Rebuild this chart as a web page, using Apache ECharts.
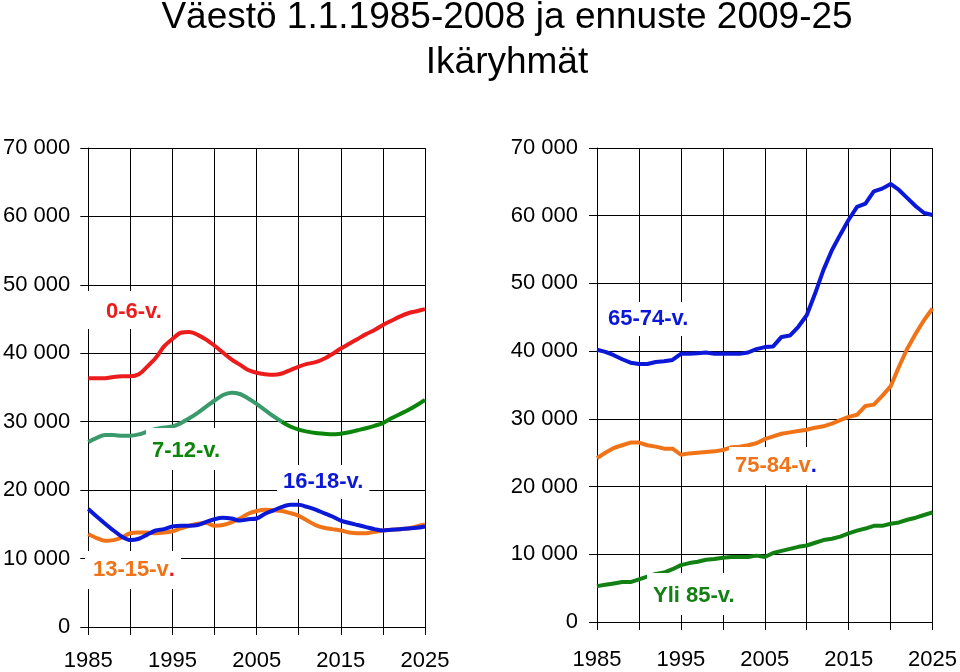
<!DOCTYPE html>
<html>
<head>
<meta charset="utf-8">
<script src="https://cdn.jsdelivr.net/npm/echarts@6/dist/echarts.min.js"></script>
<style>html,body{margin:0;padding:0;background:#fff}#c{width:960px;height:672px}</style>
</head>
<body>
<div id="c"></div>
<script>
const years = [1985,1986,1987,1988,1989,1990,1991,1992,1993,1994,1995,1996,1997,1998,1999,2000,2001,2002,2003,2004,2005,2006,2007,2008,2009,2010,2011,2012,2013,2014,2015,2016,2017,2018,2019,2020,2021,2022,2023,2024,2025];
const lastHistYear = 2008;

// Left panel: children and young people
const age0_6 = [36350,36350,36350,36550,36650,36650,36950,38050,39300,41000,42100,43000,43100,42700,42000,41100,40100,39100,38350,37550,37150,36950,36850,37050,37550,38050,38450,38700,39200,39900,40700,41400,42100,42800,43400,44150,44750,45350,45850,46150,46450];
const age7_12 = [27050,27650,28050,28050,27950,27950,28150,28550,28950,29150,29300,29800,30500,31300,32200,33100,33900,34250,34050,33400,32600,31700,30800,30000,29300,28850,28550,28350,28250,28150,28250,28450,28750,29050,29400,29800,30500,31100,31700,32400,33200];
const age13_15 = [13600,13000,12600,12700,13100,13700,13800,13800,13700,13800,14000,14400,14800,15100,15200,14800,14900,15300,15850,16550,16950,17150,17050,16950,16650,16250,15550,14900,14500,14300,14100,13800,13700,13700,13900,14100,14200,14300,14400,14700,15000];
const age16_18 = [17250,16150,15100,14100,13200,12700,12900,13500,14100,14300,14700,14800,14800,14900,15350,15750,15950,15850,15550,15750,15850,16550,17050,17550,17850,17850,17550,17150,16650,16150,15550,15200,14900,14600,14300,14100,14200,14300,14400,14500,14700];
// Right panel: older people
const age65_74 = [40200,39900,39400,38800,38300,38100,38100,38400,38500,38700,39600,39600,39700,39800,39600,39600,39600,39600,39800,40300,40600,40700,42100,42300,43600,45300,48500,52000,54900,57200,59400,61300,61800,63600,64000,64700,63800,62600,61400,60400,60100];
const age75_84 = [24200,25000,25700,26100,26500,26500,26100,25900,25600,25600,24700,24900,25000,25100,25200,25400,25800,25900,26100,26400,27000,27400,27800,28000,28200,28400,28700,28900,29300,29800,30300,30600,31900,32100,33400,34800,37700,40400,42600,44600,46300];
const age85plus = [5300,5500,5700,5900,5900,6300,6700,7100,7300,7800,8400,8700,8900,9200,9300,9500,9600,9600,9600,9800,9600,10200,10500,10800,11100,11300,11700,12100,12300,12600,13100,13500,13800,14200,14200,14500,14700,15100,15400,15800,16200];

const titleLines = ['Väestö 1.1.1985-2008 ja ennuste 2009-25', 'Ikäryhmät'];

const FONT = "'Liberation Sans', Arial, sans-serif";
const pairs = arr => years.map((y, i) => [y, arr[i]]);
const histIdx = years.indexOf(lastHistYear);

function xAxisDef(gi, margin) {
  return {
    type: 'value', gridIndex: gi, min: 1985, max: 2025, interval: 5,
    axisLine: { show: true, onZero: false, lineStyle: { color: '#000', width: 1 } },
    axisTick: { show: true, length: 8, lineStyle: { color: '#000', width: 1 } },
    axisLabel: { fontSize: 22, color: '#000', fontFamily: FONT, margin: margin,
      formatter: v => ((v - 1985) % 10 === 0 ? String(v) : ''), showMinLabel: true, showMaxLabel: true },
    splitLine: { show: true, lineStyle: { color: '#000', width: 1 } }
  };
}
function yAxisDef(gi, margin) {
  return {
    type: 'value', gridIndex: gi, min: 0, max: 70000, interval: 10000,
    axisLine: { show: true, lineStyle: { color: '#000', width: 1 } },
    axisTick: { show: true, length: 8, lineStyle: { color: '#000', width: 1 } },
    axisLabel: { fontSize: 22, color: '#000', fontFamily: FONT, margin: margin,
      formatter: v => (v === 0 ? '0' : (v / 1000) + ' 000') },
    splitLine: { show: true, lineStyle: { color: '#000', width: 1 } }
  };
}
function line(gi, data, color, smooth) {
  return { type: 'line', xAxisIndex: gi, yAxisIndex: gi, data: data, showSymbol: false,
    smooth: smooth, lineStyle: { color: color, width: 4 }, itemStyle: { color: color }, z: 3, silent: true };
}
function lab(x, y, rich, pad) {
  return { type: 'text', x: x, y: y, z: 100, silent: true,
    style: { text: rich.text, rich: rich.styles, font: 'bold 22px ' + FONT,
      backgroundColor: '#fff', padding: pad, verticalAlign: 'middle', align: 'left' } };
}
const st = c => ({ fill: c, fontSize: 22, fontWeight: 'bold', fontFamily: FONT });

const chart = echarts.init(document.getElementById('c'));
chart.setOption({
  animation: false,
  backgroundColor: '#fff',
  grid: [
    { left: 88, top: 148, width: 337, height: 479 },
    { left: 597, top: 148, width: 336, height: 474 }
  ],
  xAxis: [xAxisDef(0, 23), xAxisDef(1, 27)],
  yAxis: [yAxisDef(0, 18), yAxisDef(1, 19)],
  series: [
    line(0, pairs(age0_6), '#ec1c1c', 0.3),
    line(0, pairs(age7_12).slice(0, histIdx + 1), '#3a9a6c', 0.3),
    line(0, pairs(age7_12).slice(histIdx), '#0b860b', 0.3),
    line(0, pairs(age13_15), '#f07318', 0.3),
    line(0, pairs(age16_18), '#0c18d8', 0.3),
    line(1, pairs(age65_74), '#0c18d8', false),
    line(1, pairs(age75_84), '#f07318', false),
    line(1, pairs(age85plus), '#138013', false)
  ],
  graphic: [
    { type: 'text', x: 507, y: 18, z: 100, style: { text: titleLines[0], font: '37px ' + FONT, fill: '#000', align: 'center', verticalAlign: 'middle' } },
    { type: 'text', x: 507, y: 63, z: 100, style: { text: titleLines[1], font: '37px ' + FONT, fill: '#000', align: 'center', verticalAlign: 'middle' } },
    lab(80, 310, { text: '{r|0-6-v.}', styles: { r: st('#ec1c1c') } }, [10, 6, 6, 26]),
    lab(146, 449, { text: '{g|7-12-v.}', styles: { g: st('#0b860b') } }, [12, 6, 8, 6]),
    lab(277, 482, { text: '{b|16-18-v.}', styles: { b: st('#0c18d8') } }, [6, 6, 6, 6]),
    lab(85, 570, { text: '{o|13-15-v}{r|.}', styles: { o: st('#f07318'), r: st('#ec1c1c') } }, [8, 6, 8, 8]),
    lab(602, 319, { text: '{b|65-74-v.}', styles: { b: st('#0c18d8') } }, [6, 6, 6, 6]),
    lab(729, 466, { text: '{o|75-84-v}{b|.}', styles: { o: st('#f07318'), b: st('#0c18d8') } }, [8, 6, 8, 6]),
    lab(647, 594, { text: '{g|Yli 85-v.}', styles: { g: st('#138013') } }, [12, 6, 8, 6])
  ]
});
</script>
</body>
</html>
